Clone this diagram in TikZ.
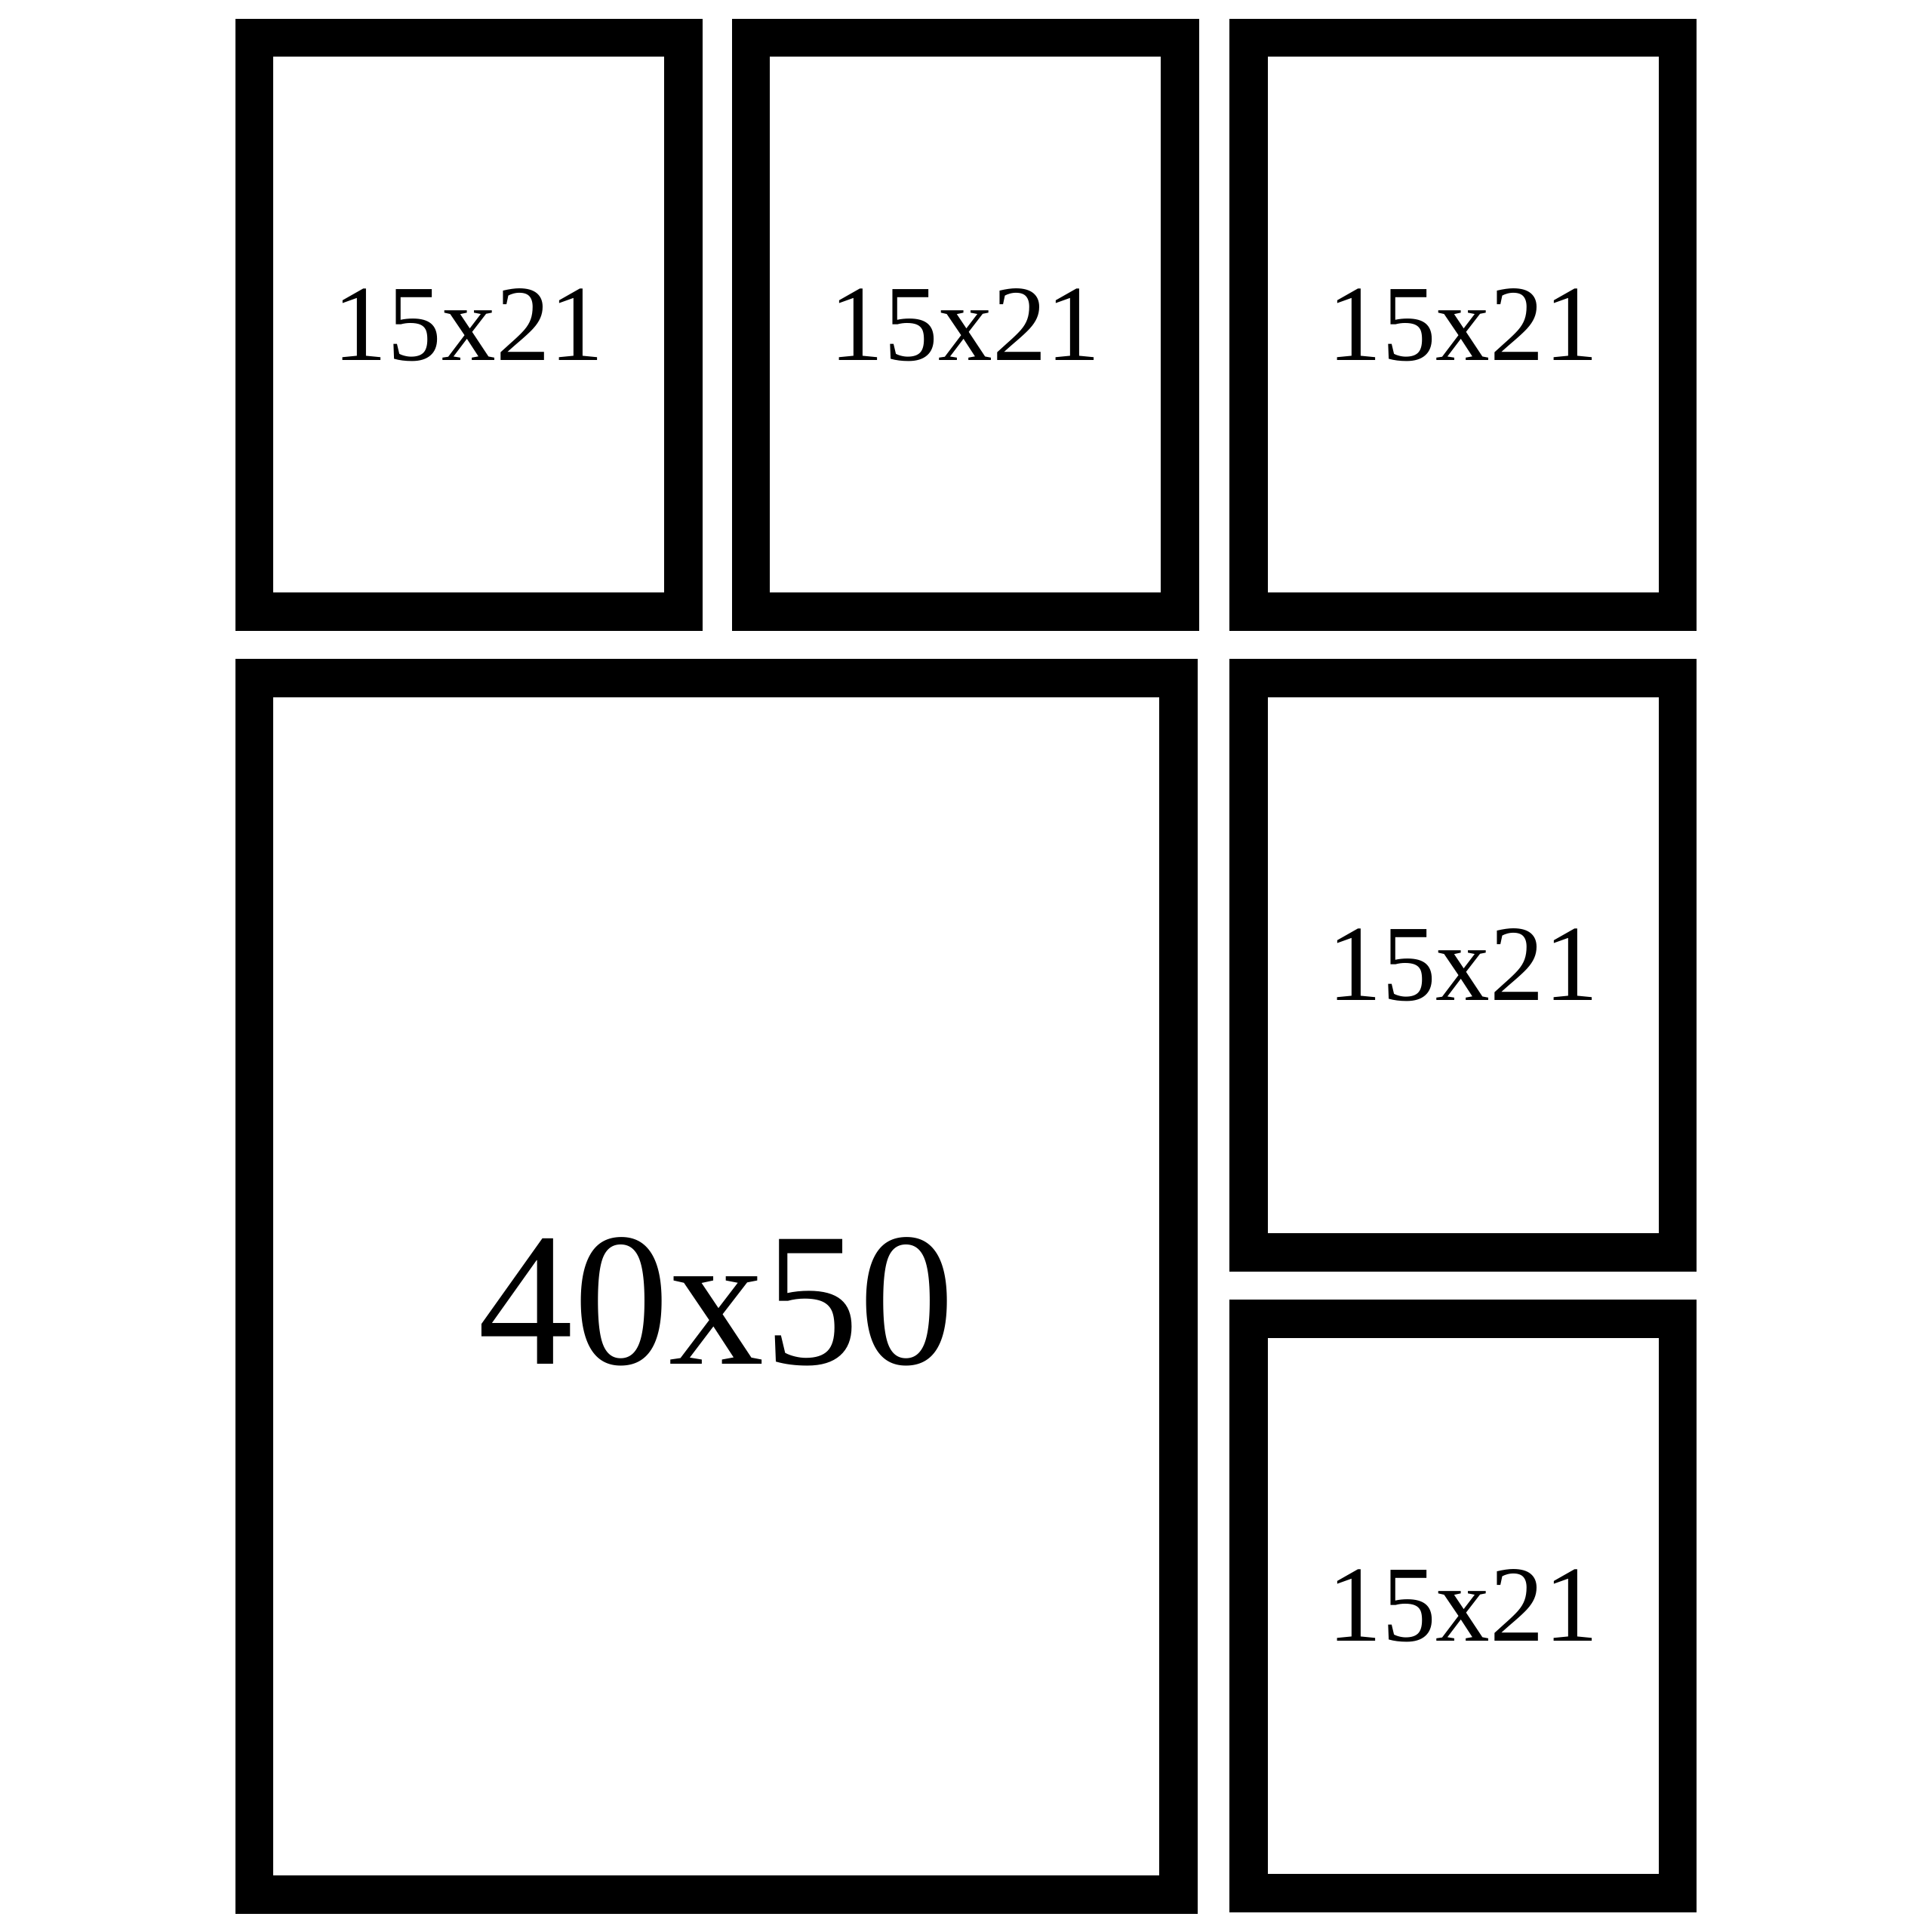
\documentclass[tikz,border=0pt]{standalone}
\usepackage{fontspec}
\setmainfont{Liberation Serif}
\usetikzlibrary{positioning}

\begin{document}
\begin{tikzpicture}[x=0.1mm, y=-0.1mm,
  frame/.style = {draw, line width=3.1mm, minimum width=34.8mm, minimum height=46.6mm, font=\fontsize{25}{30}\selectfont},
  bigframe/.style = {draw, line width=3.1mm, minimum width=75mm, minimum height=98.7mm, font=\fontsize{44}{50}\selectfont, text height=12.6mm, text depth=0mm}]
\useasboundingbox (0,0) rectangle (1568,1568);
\fill[white] (0,0) rectangle (1568,1568);
\node[frame] (f1) at (380.5,263.5) {15x21};
\node[frame] (f2) [right=2.4mm of f1] {15x21};
\node[frame] (f3) [right=2.5mm of f2] {15x21};
\node[frame] (f4) [below=2.3mm of f3] {15x21};
\node[frame] (f5) [below=2.3mm of f4] {15x21};
\node[bigframe] (big) [below=2.3mm of f1.south west, anchor=north west] {40x50};
\end{tikzpicture}
\end{document}
